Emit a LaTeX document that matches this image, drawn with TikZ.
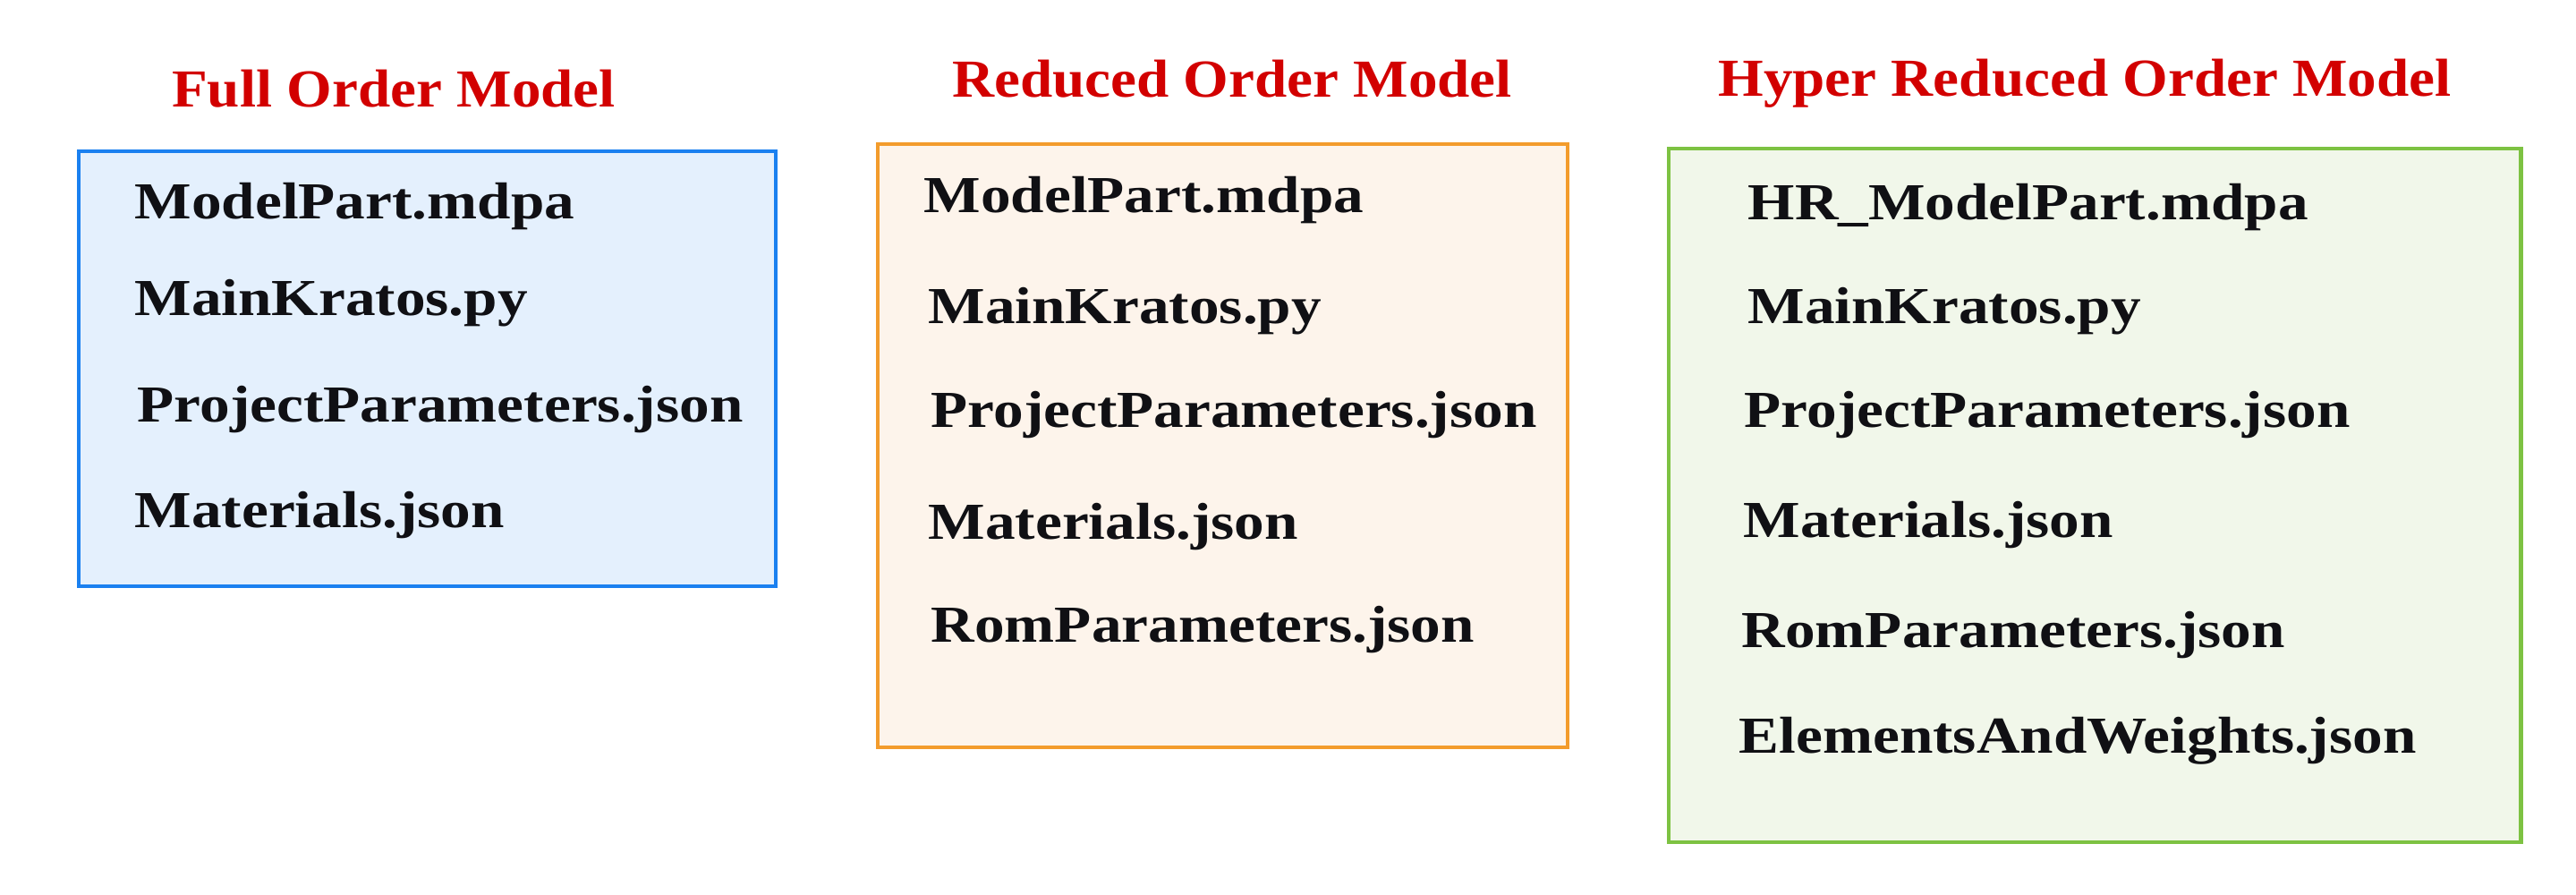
\documentclass[tikz,border=0pt]{standalone}
\usepackage{fontspec}
\setmainfont{Liberation Serif}
\newfontfamily\filefont[FakeStretch=1.16]{Liberation Serif}
\newfontfamily\titlefont[FakeStretch=1.09]{Liberation Serif}
\usepackage{xcolor}
\usepackage{tikz}
\definecolor{fomblue}{RGB}{26,128,240}
\definecolor{fomfill}{RGB}{228,240,253}
\definecolor{romorange}{RGB}{243,156,44}
\definecolor{romfill}{RGB}{253,244,235}
\definecolor{hromgreen}{RGB}{125,194,66}
\definecolor{hromfill}{RGB}{241,247,234}
\definecolor{titlered}{RGB}{210,0,0}
\definecolor{filetext}{RGB}{16,16,20}
\tikzset{
  modeltitle/.style={anchor=base,text=titlered,font=\titlefont\fontsize{17}{20}\selectfont\bfseries,inner sep=0pt},
  filename/.style={anchor=base west,text=filetext,font=\filefont\fontsize{16.5}{20}\selectfont\bfseries,inner sep=0pt}
}

\begin{document}
\begin{tikzpicture}
   \useasboundingbox (0,0) rectangle (28.79,10);
   % full order model
   \filldraw[fomfill,draw=fomblue,line width=1.4pt] (0.88,3.45) rectangle (8.67,8.31);
   \node[modeltitle] (fomtitle) at (4.40,8.80) {Full Order Model};
   \node[filename] (fommdpa) at (1.50,7.55) {ModelPart.mdpa};
   \node[filename] (fommain) at (1.50,6.47) {MainKratos.py};
   \node[filename] (fomproject) at (1.53,5.28) {ProjectParameters.json};
   \node[filename] (fommaterials) at (1.50,4.10) {Materials.json};
   % reduced order model
   \filldraw[romfill,draw=romorange,line width=1.4pt] (9.81,1.65) rectangle (17.52,8.39);
   \node[modeltitle] (romtitle) at (13.77,8.91) {Reduced Order Model};
   \node[filename] (rommdpa) at (10.32,7.62) {ModelPart.mdpa};
   \node[filename] (rommain) at (10.37,6.38) {MainKratos.py};
   \node[filename] (romproject) at (10.40,5.22) {ProjectParameters.json};
   \node[filename] (rommaterials) at (10.37,3.97) {Materials.json};
   \node[filename] (romparams) at (10.40,2.82) {RomParameters.json};
   % hyper reduced order model
   \filldraw[hromfill,draw=hromgreen,line width=1.4pt] (18.65,0.59) rectangle (28.17,8.34);
   \node[modeltitle] (hromtitle) at (23.30,8.92) {Hyper Reduced Order Model};
   \node[filename] (hrommdpa) at (19.53,7.54) {HR\_ModelPart.mdpa};
   \node[filename] (hrommain) at (19.53,6.38) {MainKratos.py};
   \node[filename] (hromproject) at (19.49,5.22) {ProjectParameters.json};
   \node[filename] (hrommaterials) at (19.48,3.99) {Materials.json};
   \node[filename] (hromparams) at (19.46,2.76) {RomParameters.json};
   \node[filename] (hromweights) at (19.43,1.58) {ElementsAndWeights.json};
\end{tikzpicture}
\end{document}
